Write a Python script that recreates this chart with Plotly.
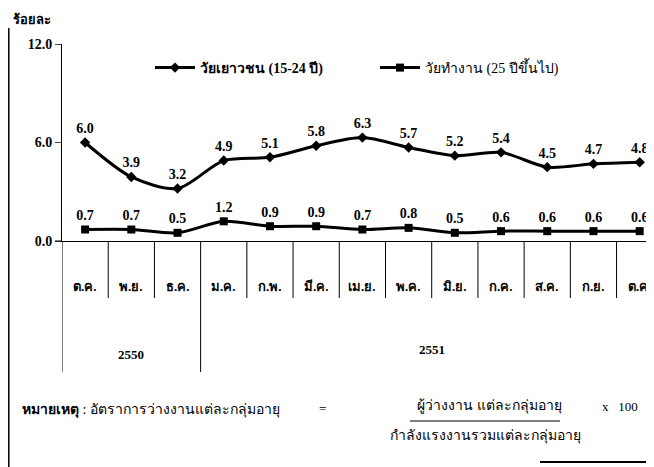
import plotly.graph_objects as go

months = ["ต.ค.", "พ.ย.", "ธ.ค.", "ม.ค.", "ก.พ.", "มี.ค.", "เม.ย.", "พ.ค.", "มิ.ย.", "ก.ค.", "ส.ค.", "ก.ย.", "ต.ค."]
youth = [6.0, 3.9, 3.2, 4.9, 5.1, 5.8, 6.3, 5.7, 5.2, 5.4, 4.5, 4.7, 4.8]
working = [0.7, 0.7, 0.5, 1.2, 0.9, 0.9, 0.7, 0.8, 0.5, 0.6, 0.6, 0.6, 0.6]
years = ["2550", "2551"]
year_spans = [(0, 2), (3, 12)]
youth_name = "วัยเยาวชน (15-24 ปี)"
working_name = "วัยทำงาน (25 ปีขึ้นไป)"
y_ticks = [0, 6, 12]
y_ticktext = ["0.0", "6.0", "12.0"]

# the page body has an 8px margin, so the figure is drawn 8px in from the top-left
OFF = 8
W, H = 654 - OFF, 467 - OFF
def py(p):
    return 1 - (p - OFF) / H
def px(p):
    return (p - OFF) / W

SERIF = "Liberation Serif, Times New Roman, serif"
x = list(range(len(months)))

fig = go.Figure()
fig.add_trace(go.Scatter(
    x=x, y=youth, mode="lines+markers+text", name="<b>" + youth_name + "</b>",
    line=dict(color="black", width=3, shape="spline", smoothing=0.8),
    marker=dict(symbol="diamond", size=8, color="black"),
    text=[f"<b>{v:.1f}</b>" for v in youth], textposition="top center",
    textfont=dict(family=SERIF, size=14, color="black"),
))
fig.add_trace(go.Scatter(
    x=x, y=working, mode="lines+markers+text", name=working_name,
    line=dict(color="black", width=3, shape="spline", smoothing=0.8),
    marker=dict(symbol="square", size=8, color="black"),
    text=[f"<b>{v:.1f}</b>" for v in working], textposition="top center",
    textfont=dict(family=SERIF, size=14, color="black"),
))

shapes = []
annotations = []
axis_y = 241
for i in range(len(months) - 1):
    b = i + 0.5
    long = (b == 2.5)
    shapes.append(dict(type="line", xref="x", yref="paper", x0=b, x1=b,
                       y0=py(axis_y), y1=py(372 if long else 298),
                       line=dict(color="black", width=1)))
shapes.append(dict(type="line", xref="x", yref="paper", x0=-0.5, x1=-0.5,
                   y0=py(axis_y), y1=py(372), line=dict(color="black", width=1)))
shapes.append(dict(type="line", xref="paper", yref="paper", x0=px(55), x1=px(62),
                   y0=py(axis_y), y1=py(axis_y), line=dict(color="black", width=1)))
shapes.append(dict(type="line", xref="paper", yref="paper", x0=px(8.8), x1=px(8.8),
                   y0=py(28), y1=0, line=dict(color="black", width=1.5)))
shapes.append(dict(type="line", xref="paper", yref="paper", x0=px(540), x1=1,
                   y0=py(462), y1=py(462), line=dict(color="black", width=2)))
shapes.append(dict(type="line", xref="paper", yref="paper", x0=px(410), x1=px(560),
                   y0=py(421), y1=py(421), line=dict(color="black", width=1.2)))

for i, m in enumerate(months):
    annotations.append(dict(x=i, y=py(286), xref="x", yref="paper", text="<b>" + m + "</b>",
                            xanchor="center", showarrow=False,
                            font=dict(family=SERIF, size=13, color="black")))
year_y = [364, 359]
for (a, b), yr, yy in zip(year_spans, years, year_y):
    annotations.append(dict(x=(a + b) / 2, y=py(yy), xref="x", yref="paper", text="<b>" + yr + "</b>",
                            xanchor="center", showarrow=False,
                            font=dict(family=SERIF, size=13, color="black")))

annotations.append(dict(x=px(11), y=py(10), xref="paper", yref="paper", xanchor="left",
                        yanchor="top", text="<b>ร้อยละ</b>", showarrow=False,
                        font=dict(family=SERIF, size=13, color="black")))
annotations.append(dict(x=px(20), y=py(420), xref="paper", yref="paper", xanchor="left",
                        text="<b>หมายเหตุ</b> : อัตราการว่างงานแต่ละกลุ่มอายุ", showarrow=False,
                        font=dict(family=SERIF, size=14, color="black")))
annotations.append(dict(x=px(322), y=py(418), xref="paper", yref="paper", xanchor="center",
                        text="=", showarrow=False, font=dict(family=SERIF, size=13, color="black")))
annotations.append(dict(x=px(490), y=py(416), xref="paper", yref="paper", xanchor="center",
                        text="ผู้ว่างงาน แต่ละกลุ่มอายุ", showarrow=False,
                        font=dict(family=SERIF, size=14, color="black")))
annotations.append(dict(x=px(485), y=py(446), xref="paper", yref="paper", xanchor="center",
                        text="กำลังแรงงานรวมแต่ละกลุ่มอายุ", showarrow=False,
                        font=dict(family=SERIF, size=14, color="black")))
annotations.append(dict(x=px(620), y=py(416), xref="paper", yref="paper", xanchor="center",
                        text="x   100", showarrow=False, font=dict(family=SERIF, size=13, color="black")))

fig.update_layout(
    template="none",
    width=W, height=H, margin=dict(l=0, r=0, t=0, b=0, autoexpand=False),
    paper_bgcolor="white", plot_bgcolor="white",
    showlegend=True,
    legend=dict(orientation="h", x=px(150), y=py(52), xanchor="left", yanchor="top",
                font=dict(family=SERIF, size=14, color="black"), bgcolor="rgba(0,0,0,0)",
                entrywidth=170, itemwidth=40),
    xaxis=dict(domain=[px(62), 1], range=[-0.5, 12.31], showgrid=False, zeroline=False,
               automargin=False,
               showline=True, linecolor="black", linewidth=1, showticklabels=False, ticks=""),
    yaxis=dict(domain=[py(axis_y), py(44)], range=[0, 12], showgrid=False, zeroline=False,
               automargin=False,
               showline=True, linecolor="black", linewidth=1, tickvals=y_ticks,
               ticktext=["<b>" + t + "</b>" for t in y_ticktext], ticks="outside", ticklen=6,
               tickfont=dict(family=SERIF, size=14, color="black")),
    shapes=shapes, annotations=annotations,
)
fig.write_html("out.html")
